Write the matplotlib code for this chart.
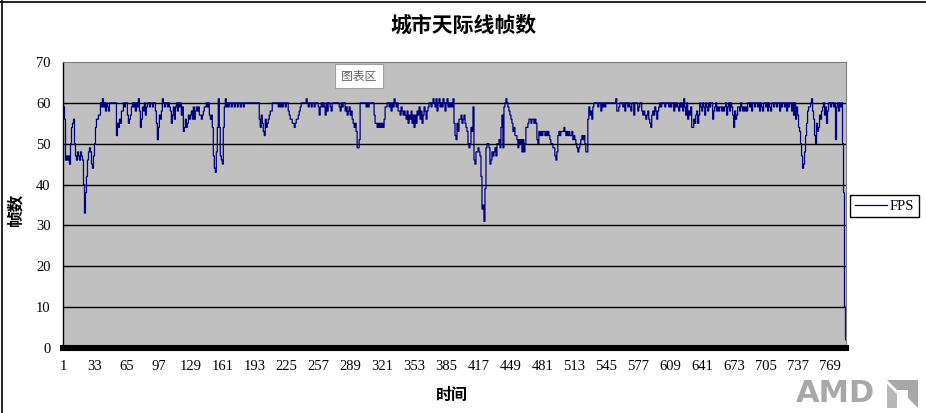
import matplotlib
matplotlib.use("Agg")
import matplotlib.pyplot as plt
from matplotlib.lines import Line2D
from matplotlib.patches import Polygon

# FPS per sample (16 samples per row)
fps = [
    60, 59, 56, 46, 47, 46, 47, 45, 50, 54, 55, 56, 50, 47, 46, 48,
    47, 46, 48, 47, 46, 40, 33, 38, 42, 46, 48, 49, 48, 45, 44, 47,
    50, 54, 56, 56, 57, 57, 60, 59, 61, 59, 60, 58, 60, 59, 58, 60,
    60, 60, 60, 60, 60, 60, 52, 55, 54, 56, 55, 58, 58, 60, 59, 60,
    60, 57, 55, 56, 57, 59, 60, 59, 60, 58, 60, 59, 61, 58, 54, 56,
    59, 58, 60, 57, 59, 60, 60, 59, 60, 60, 59, 60, 60, 58, 55, 51,
    54, 57, 56, 58, 61, 60, 59, 60, 60, 59, 60, 59, 58, 55, 57, 59,
    56, 59, 60, 58, 60, 59, 60, 57, 59, 53, 54, 56, 54, 55, 57, 56,
    57, 58, 56,
    59, 56, 58, 59, 58, 59, 57, 57, 56, 57, 58, 59, 59, 60, 59, 60,
    57, 56, 57, 54, 47, 44, 43, 48, 54, 61, 54, 47, 46, 45, 54, 59,
    61, 59, 60, 59, 60, 60, 59, 60, 60, 59, 60, 60, 59, 60, 60, 59,
    60, 60, 59, 60, 60, 60, 60, 60, 60, 60, 60, 60, 60, 60, 60, 60,
    60, 60, 56, 54, 57, 55, 53, 52, 56, 54, 55, 56, 57, 58, 58, 60,
    60, 60, 60, 60, 60, 59, 60, 59, 60, 59, 60, 60, 59, 60, 60, 58,
    57, 56, 56, 55, 55, 54, 55, 56, 56, 57, 58, 59, 60, 60, 60, 60,
    60, 61, 60, 59, 60, 60, 59, 60, 60, 59, 60, 60, 60, 59, 57, 59,
    60, 59,
    60, 59, 57, 60, 58, 60, 60, 59, 58, 60, 60, 60, 60, 60, 60, 60,
    59, 58, 60, 59, 60, 60, 58, 59, 57, 58, 59, 57, 58, 56, 55, 54,
    55, 53, 49, 49, 51, 60, 60, 60, 60, 60, 60, 59, 60, 59, 60, 60,
    60, 60, 60, 57, 55, 55, 54, 55, 54, 55, 54, 55, 54, 56, 59, 59,
    60, 60, 59, 60, 58, 60, 59, 61, 60, 59, 60, 58, 58, 57, 59, 58,
    57, 58, 57, 56, 58, 55, 57, 56, 58, 55, 57, 54, 57, 55, 58, 57,
    59, 56, 58, 55, 57, 59, 58, 56, 58, 59, 60, 60, 59, 60, 61, 60,
    59, 61, 58, 60, 61, 59, 60, 59, 61, 60, 58, 60, 61, 59, 60, 59,
    60, 59, 61, 55, 52, 51, 55, 53, 56, 56, 57, 55, 56, 57, 55, 54,
    53, 50, 49, 50, 54, 53, 59, 46, 45, 48, 48, 49, 48, 47, 42, 34,
    35, 31, 39, 49, 50, 50, 49, 45, 46, 48, 47, 48, 49, 47, 50, 50,
    51, 49, 54, 57, 49, 59, 60, 61, 60, 59, 58, 57, 56, 55, 53, 54,
    52, 52, 51, 49, 51, 50, 51, 48, 51, 48, 50, 54, 54, 55, 56, 56,
    55, 56, 56, 55, 56, 55, 51, 50, 53, 52, 53, 52, 53, 53, 52, 53,
    52, 53, 52, 51, 50, 50, 49, 49, 47, 46, 48, 52, 53, 52, 53, 53,
    53, 54, 53, 52, 53, 52, 53, 52, 52, 53, 51, 52, 51, 50, 49, 48,
    49, 50,
    51, 52, 51, 52, 50, 48, 48, 56, 59, 57, 58, 56, 59, 60, 60, 60,
    60, 59, 60, 60, 58, 60, 59, 60, 59, 60, 60, 60, 60, 60, 60, 60,
    60, 60, 60, 61, 58, 58, 59, 60, 60, 60, 59, 60, 58, 60, 60, 59,
    60, 59, 58, 60, 60, 57, 60, 60, 60, 58, 59, 60, 60, 58, 57, 58,
    57, 56, 57, 58, 56, 55, 54, 57, 58, 57, 59, 58, 56, 58, 59, 60,
    59, 60, 60, 60, 59, 60, 60, 60, 59, 60, 59, 60, 60, 58, 60, 59,
    60, 59, 58, 60, 59, 60, 58, 61, 59, 57, 60, 56, 58, 57, 59, 54,
    54, 56, 55, 57, 58, 55, 57, 60, 59, 58, 60, 59, 57, 60, 59, 58,
    60, 59, 60, 60,
    56, 58, 59, 60, 58, 59, 58, 59, 59, 58, 59, 58, 59, 60, 57, 59,
    60, 58, 60, 59, 57, 54, 58, 56, 57, 59, 59, 58, 60, 59, 58, 59,
    58, 59, 58, 60, 60, 59, 60, 58, 60, 60, 59, 60, 60, 59, 60, 58,
    60, 59, 58, 60, 60, 59, 60, 58, 60, 59, 58, 60, 60, 59, 60, 60,
    59, 60, 60, 58, 60, 59, 60, 60, 59, 60, 58, 60, 59, 60, 60, 58,
    60, 57, 60, 56, 59, 57, 54, 53, 50, 47, 44, 45, 48, 52, 55, 58,
    59, 59, 60, 61, 58, 56, 52, 50, 55, 53, 54, 57, 56, 58, 59, 60,
    57, 59, 55, 58, 60, 60, 59, 60, 60, 59, 60, 51, 59, 60, 58, 60,
    59, 60, 50, 38, 10, 2,
]
xticks = list(range(1, 770, 32))
yticks = list(range(0, 71, 10))

W, H = 926, 413
fig = plt.figure(figsize=(W / 100, H / 100), dpi=100)
fig.patch.set_facecolor("white")

# plot area in pixel terms
left, right, top, bot = 63, 846, 62, 348
ax = fig.add_axes([left / W, 1 - bot / H, (right - left) / W, (bot - top) / H])
ax.set_facecolor("#c0c0c0")

x = list(range(1, len(fps) + 1))
ax.plot(x, fps, color="#000080", lw=0.9, label="FPS", drawstyle="steps-mid")

ax.set_xlim(1, len(fps))
ax.set_ylim(0, 70)
for v in yticks[1:-1]:
    ax.axhline(v, color="black", lw=1.0, zorder=1)

ax.spines["top"].set_color("#808080")
ax.spines["right"].set_color("#808080")
ax.spines["left"].set_color("black")
ax.spines["bottom"].set_color("black")
ax.spines["bottom"].set_linewidth(4.4)
ax.spines["left"].set_linewidth(1.0)

num_font = "Liberation Serif"
ax.set_xticks(xticks)
ax.set_xticklabels([str(t) for t in xticks], fontsize=10.5, family=num_font)
ax.set_yticks(yticks)
ax.set_yticklabels([str(t) for t in yticks], fontsize=10.5, family=num_font)
ax.tick_params(axis="x", length=0, pad=9)
ax.tick_params(axis="y", length=0, pad=9)

cjk = ["Noto Sans CJK SC", "DejaVu Sans"]
fig.text(463 / W, 1 - 25 / H, "城市天际线帧数", ha="center", va="center",
         fontsize=15, fontweight="bold", family=cjk)
fig.text(452 / W, 1 - 395 / H, "时间", ha="center", va="center",
         fontsize=11.5, fontweight="bold", family=cjk)
fig.text(15 / W, 1 - 209 / H, "帧数", ha="center", va="center", rotation=90,
         fontsize=12, fontweight="bold", family=cjk)

# tooltip left over from the screenshot
fig.text(359 / W, 1 - 76 / H, "图表区", ha="center", va="center",
         fontsize=8.5, color="#606060", family=cjk,
         bbox=dict(boxstyle="square,pad=0.5", fc="white", ec="#a0a0a0", lw=0.8))

# legend
handle = Line2D([], [], color="#000080", lw=0.9)
leg = fig.legend([handle], ["FPS"], loc="center", bbox_to_anchor=(884.5 / W, 1 - 206 / H),
                 frameon=True, fancybox=False, edgecolor="black", framealpha=1,
                 prop={"family": num_font, "size": 10.5}, handlelength=2.2,
                 handletextpad=0.2, borderpad=0.3)
leg.get_frame().set_linewidth(1.0)

# chart-area border at left/top (screenshot crop)
fig.add_artist(Line2D([1.5 / W, 1.5 / W], [0, 1 - 1 / H], color="black", lw=1.2))
fig.add_artist(Line2D([0, 1], [1 - 2 / H, 1 - 2 / H], color="black", lw=1.2))

# AMD watermark
fig.text(835 / W, 1 - 394 / H, "AMD", ha="center", va="center", fontsize=22,
         fontweight="bold", color="#a8a8a8", family="DejaVu Sans")
logo = Polygon([[887 / W, 1 - 380 / H], [918 / W, 1 - 380 / H], [918 / W, 1 - 408 / H],
                [908 / W, 1 - 398 / H], [908 / W, 1 - 390 / H], [897 / W, 1 - 390 / H]],
               closed=True, transform=fig.transFigure, fc="#a8a8a8", ec="none")
fig.add_artist(logo)
logo2 = Polygon([[887 / W, 1 - 384 / H], [897 / W, 1 - 394 / H], [897 / W, 1 - 408 / H],
                 [887 / W, 1 - 408 / H]],
                closed=True, transform=fig.transFigure, fc="#b8b8b8", ec="none")
fig.add_artist(logo2)

fig.savefig("out.png", dpi=100)
